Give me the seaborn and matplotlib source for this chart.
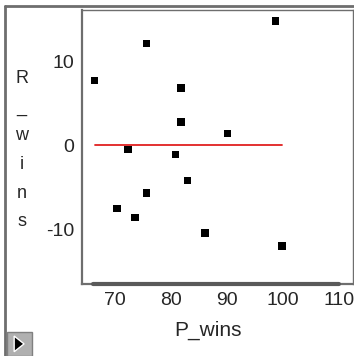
import matplotlib
matplotlib.use("Agg")
import matplotlib.pyplot as plt
import seaborn as sns
import pandas as pd
from matplotlib.patches import Rectangle, Polygon
from matplotlib.lines import Line2D

# datos
p_wins = [66.3, 75.6, 98.7, 81.8, 81.8, 90.1, 72.3, 80.8, 82.9, 75.6, 70.3, 73.5, 86.1, 99.8]
r_wins = [7.7, 12.1, 14.8, 6.8, 2.8, 1.4, -0.5, -1.1, -4.2, -5.7, -7.5, -8.6, -10.4, -12.0]
x_ticks = [70, 80, 90, 100, 110]
y_ticks = [-10, 0, 10]

df = pd.DataFrame({"P_wins": p_wins, "R_wins": r_wins})
df_line = pd.DataFrame({"P_wins": [min(p_wins), max(p_wins)], "R_wins": [0, 0]})

sns.set_style("white")
plt.rcParams["font.family"] = ["Liberation Sans", "DejaVu Sans"]
plt.rcParams["axes.unicode_minus"] = False

gris = "#6e6e6e"
fig = plt.figure(figsize=(3.54, 3.56), dpi=100)
ax = fig.add_axes([0.2325, 0.2022, 0.7638, 0.7697])

sns.scatterplot(data=df, x="P_wins", y="R_wins", marker="s", s=30,
                color="black", edgecolor="none", ax=ax, zorder=3)
sns.lineplot(data=df_line, x="P_wins", y="R_wins", color="#e02020",
             linewidth=1.3, ax=ax, zorder=2)

ax.set_xlim(64.1, 112.5)
ax.set_ylim(-16.5, 16.1)
ax.set_xticks(x_ticks)
ax.set_yticks(y_ticks)
ax.tick_params(axis="both", direction="out", length=4, width=1, color=gris,
               labelsize=14, pad=2)

for lado, sp in ax.spines.items():
    sp.set_color(gris)
    sp.set_linewidth(1.0)
ax.spines["left"].set_linewidth(1.6)
ax.spines["bottom"].set_linewidth(1.6)

# barra gruesa sobre el eje x
ax.plot([66.0, 110], [0, 0], transform=ax.get_xaxis_transform(),
        color="#5a5a5a", linewidth=3, clip_on=False, zorder=4)

ax.set_xlabel("P_wins", fontsize=15)
ax.xaxis.set_label_coords(0.465, -0.135)
ax.set_ylabel("")
fig.text(0.061, 0.804, "\n".join("R_wins"), fontsize=13, ha="center", va="top",
         linespacing=1.9)

# marco exterior
fig.add_artist(Line2D([0.013, 1.0], [0.984, 0.984], color=gris, linewidth=2,
                      transform=fig.transFigure))
fig.add_artist(Line2D([0.013, 0.013], [0.0, 0.984], color=gris, linewidth=2,
                      transform=fig.transFigure))

# botón
fig.add_artist(Rectangle((0.02, 0.0), 0.071, 0.068, transform=fig.transFigure,
                         facecolor="#b0b0b0", edgecolor="#808080", linewidth=1))
fig.add_artist(Polygon([[0.04, 0.012], [0.04, 0.056], [0.068, 0.034]],
                       closed=True, transform=fig.transFigure, facecolor="black"))

fig.savefig("out.png", dpi=100)
